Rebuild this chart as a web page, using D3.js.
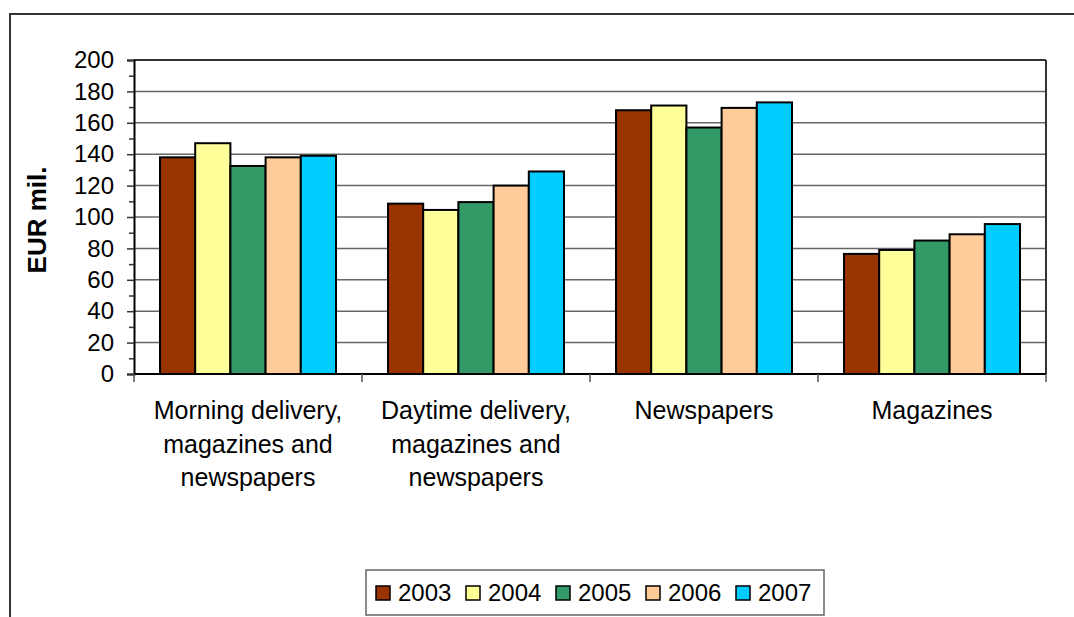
<!DOCTYPE html>
<html>
<head>
<meta charset="utf-8">
<script src="https://cdn.jsdelivr.net/npm/d3@7"></script>
<style>
  body { margin: 0; background: #fff; }
  svg { display: block; font-family: "Liberation Sans", Arial, sans-serif; }
</style>
</head>
<body>
<svg id="chart" width="1074" height="617"></svg>
<script>
// data
const categories = [
    ["Morning delivery,", "magazines and", "newspapers"],
    ["Daytime delivery,", "magazines and", "newspapers"],
    ["Newspapers"],
    ["Magazines"]
]
const years = ["2003", "2004", "2005", "2006", "2007"]
const colors = ["#993300", "#ffff99", "#339966", "#ffcc99", "#00ccff"]
const values2003 = [138, 108.5, 168, 76.5]
const values2004 = [147, 104.5, 171, 79]
const values2005 = [132.5, 109.5, 157, 85]
const values2006 = [138, 120, 169.5, 89]
const values2007 = [139, 129, 173, 95.5]
const yTicks = [0, 20, 40, 60, 80, 100, 120, 140, 160, 180, 200]

const seriesValues = [values2003, values2004, values2005, values2006, values2007]

const svg = d3.select("#chart")
const margin = {top: 60, right: 28, bottom: 243, left: 134}
const width = 1074 - margin.left - margin.right
const height = 617 - margin.top - margin.bottom

// outer chart frame (only top and left edges are visible)
svg.append("rect")
    .attr("x", 10).attr("y", 14)
    .attr("width", 1100).attr("height", 700)
    .attr("fill", "none")
    .attr("stroke", "#333")
    .attr("stroke-width", 2)

const g = svg.append("g").attr("transform", "translate(" + margin.left + "," + margin.top + ")")

const catIdx = categories.map((c, i) => i)
const x0 = d3.scaleBand().domain(catIdx).range([0, width]).paddingInner(0.228).paddingOuter(0.114)
const x1 = d3.scaleBand().domain(years).range([0, x0.bandwidth()])
const y = d3.scaleLinear().domain([0, 200]).range([height, 0])

// gridlines
g.append("g")
    .selectAll("line")
    .data(yTicks.filter(d => d > 0))
    .enter().append("line")
    .attr("x1", 0).attr("x2", width)
    .attr("y1", d => y(d)).attr("y2", d => y(d))
    .attr("stroke", "#666")
    .attr("stroke-width", 1.5)

// top and right border of plot area
g.append("line")
    .attr("x1", width).attr("x2", width)
    .attr("y1", 0).attr("y2", height)
    .attr("stroke", "#333")
    .attr("stroke-width", 2)
g.append("line")
    .attr("x1", 0).attr("x2", width)
    .attr("y1", 0).attr("y2", 0)
    .attr("stroke", "#333")
    .attr("stroke-width", 2)

// bars
const groups = g.selectAll(".cat")
    .data(catIdx)
    .enter().append("g")
    .attr("class", "cat")
    .attr("transform", d => "translate(" + x0(d) + ",0)")

groups.selectAll("rect")
    .data(ci => years.map((yr, si) => ({yr: yr, si: si, v: seriesValues[si][ci]})))
    .enter().append("rect")
    .attr("x", d => x1(d.yr))
    .attr("y", d => y(d.v))
    .attr("width", x1.bandwidth())
    .attr("height", d => height - y(d.v))
    .attr("fill", d => colors[d.si])
    .attr("stroke", "#000")
    .attr("stroke-width", 2)

// y axis
const yAxis = g.append("g")
    .call(d3.axisLeft(y).tickValues(d3.range(0, 201, 10)).tickSize(7).tickFormat(d => d % 20 === 0 ? d : ""))
yAxis.select(".domain").attr("stroke", "#000").attr("stroke-width", 2)
yAxis.selectAll(".tick line").attr("stroke", "#333").attr("stroke-width", 1.5)
yAxis.selectAll(".tick text")
    .attr("x", -20)
    .style("font-size", "24px")
    .attr("fill", "#000")
yAxis.selectAll(".tick").filter(d => d % 20 !== 0).select("line").attr("x2", -5)

// x axis baseline and separators
g.append("line")
    .attr("x1", 0).attr("x2", width)
    .attr("y1", height).attr("y2", height)
    .attr("stroke", "#000")
    .attr("stroke-width", 2)
g.append("g")
    .selectAll("line")
    .data(d3.range(0, categories.length + 1))
    .enter().append("line")
    .attr("x1", d => d * x0.step()).attr("x2", d => d * x0.step())
    .attr("y1", height).attr("y2", height + 8)
    .attr("stroke", "#555")
    .attr("stroke-width", 1.5)

// category labels
g.selectAll(".catlabel")
    .data(catIdx)
    .enter().append("text")
    .attr("class", "catlabel")
    .attr("text-anchor", "middle")
    .style("font-size", "25px")
    .attr("fill", "#000")
    .attr("transform", d => "translate(" + (x0(d) + x0.bandwidth() / 2) + "," + (height + 45) + ")")
    .selectAll("tspan")
    .data(d => categories[d])
    .enter().append("tspan")
    .attr("x", 0)
    .attr("y", (d, i) => i * 33.5)
    .text(d => d)

// y axis title
svg.append("text")
    .attr("transform", "translate(46,220) rotate(-90)")
    .attr("text-anchor", "middle")
    .style("font-size", "26px")
    .style("font-weight", "bold")
    .text("EUR mil.")

// legend
const legend = svg.append("g").attr("transform", "translate(366,570)")
legend.append("rect")
    .attr("width", 458).attr("height", 45)
    .attr("fill", "#fff")
    .attr("stroke", "#666")
    .attr("stroke-width", 1.5)
const item = legend.selectAll(".item")
    .data(years)
    .enter().append("g")
    .attr("class", "item")
    .attr("transform", (d, i) => "translate(" + (10 + i * 90) + ",0)")
item.append("rect")
    .attr("x", 0).attr("y", 16)
    .attr("width", 14).attr("height", 14)
    .attr("fill", (d, i) => colors[i])
    .attr("stroke", "#000")
    .attr("stroke-width", 1.5)
item.append("text")
    .attr("x", 22).attr("y", 31)
    .style("font-size", "24px")
    .text(d => d)
</script>
</body>
</html>
